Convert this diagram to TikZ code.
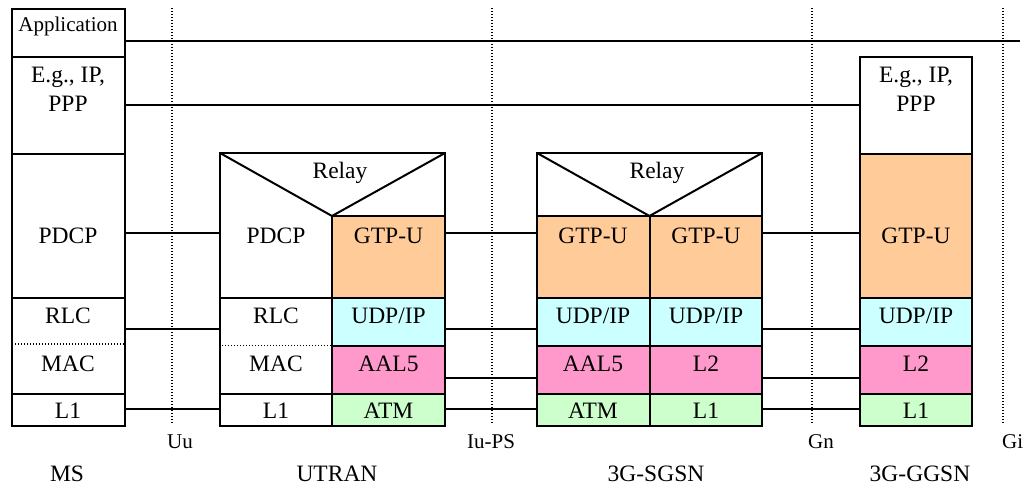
\documentclass[tikz,border=0pt]{standalone}
\usepackage{fontspec}
\setmainfont{Liberation Serif}
\definecolor{cGTP}{HTML}{FFCC99}
\definecolor{cUDP}{HTML}{CCFFFF}
\definecolor{cLtwo}{HTML}{FF99CC}
\definecolor{cLone}{HTML}{CCFFCC}
\newcommand{\bx}[6]{\node[box,fill=#6,minimum width={(#4-#2)*1pt},minimum height={(#5-#3)*1pt}] (#1) at ({(#2+#4)/2},{(#3+#5)/2}) {};}
\tikzset{
  box/.style={draw, line width=2pt, inner sep=0pt, outer sep=0pt},
  txt/.style={anchor=base, inner sep=0pt, font=\fontsize{23.5}{28}\selectfont},
  enttxt/.style={txt, text depth=0pt},
  apptxt/.style={anchor=base, inner sep=0pt, font=\fontsize{21}{25}\selectfont},
  iftxt/.style={anchor=base west, inner sep=0pt, font=\fontsize{21}{25}\selectfont},
  conn/.style={line width=1.3pt},
  sep/.style={line width=1.2pt, dash pattern=on 1.2pt off 1.8pt},
  subsep/.style={line width=1.2pt, dash pattern=on 1.2pt off 1.8pt},
  vline/.style={line width=2pt, line join=miter}
}
\begin{document}
\begin{tikzpicture}[x=1pt,y=-1pt]
\useasboundingbox (0,0) rectangle (1023,487);
% interface separators
\foreach \n/\x in {Uu/172,Iu/492,Gn/812,Gi/1003}{
  \coordinate (\n top) at (\x,8);
  \coordinate (\n bot) at (\x,423);
  \draw[sep] (\n top) -- (\n bot);
}
% ---- MS ----
\bx{msApp}{12}{9}{124.5}{57}{white}
\bx{msEG}{12}{57}{124.5}{154}{white}
\bx{msPDCP}{12}{154}{124.5}{298}{white}
\bx{msRLC}{12}{298}{124.5}{394}{white}
\bx{msL1}{12}{394}{124.5}{426}{white}
\draw[subsep] (msRLC.west |- 0,344) -- (msRLC.east |- 0,344);
% ---- UTRAN ----
\bx{uTop}{220}{153}{445}{298}{white}
\bx{uGTP}{332}{216}{445}{298}{cGTP}
\draw[vline] (uTop.north west) -- (uGTP.north west) -- (uTop.north east);
\bx{uRLC}{220}{298}{332}{394}{white}
\bx{uUDP}{332}{298}{445}{346}{cUDP}
\bx{uAAL}{332}{346}{445}{394}{cLtwo}
\bx{uL1}{220}{394}{332}{426}{white}
\bx{uATM}{332}{394}{445}{426}{cLone}
\draw[subsep] ([xshift=2pt]uRLC.west |- 0,345.5) -- ([xshift=-1pt]uRLC.east |- 0,345.5);
% ---- 3G-SGSN ----
\bx{sRelay}{537}{153}{762}{216}{white}
\draw[vline] (sRelay.north west) -- (sRelay.south) -- (sRelay.north east);
\bx{sGTPa}{537}{216}{649.5}{298}{cGTP}
\bx{sGTPb}{649.5}{216}{762}{298}{cGTP}
\bx{sUDPa}{537}{298}{649.5}{346}{cUDP}
\bx{sUDPb}{649.5}{298}{762}{346}{cUDP}
\bx{sAAL}{537}{346}{649.5}{394}{cLtwo}
\bx{sLtwo}{649.5}{346}{762}{394}{cLtwo}
\bx{sATM}{537}{394}{649.5}{426}{cLone}
\bx{sLone}{649.5}{394}{762}{426}{cLone}
% ---- 3G-GGSN ----
\bx{gEG}{860}{57}{972}{154}{white}
\bx{gGTP}{860}{154}{972}{298}{cGTP}
\bx{gUDP}{860}{298}{972}{346}{cUDP}
\bx{gLtwo}{860}{346}{972}{394}{cLtwo}
\bx{gLone}{860}{394}{972}{426}{cLone}
% ---- connectors ----
\coordinate (appEnd) at (1020,41);
\draw[conn] (msApp.east |- appEnd) -- (appEnd);
\draw[conn] (msEG.east |- 0,105) -- (gEG.west |- 0,105);
\draw[conn] (msPDCP.east |- 0,233) -- (uTop.west |- 0,233);
\draw[conn] (uGTP.east |- 0,233) -- (sGTPa.west |- 0,233);
\draw[conn] (sGTPb.east |- 0,233) -- (gGTP.west |- 0,233);
\draw[conn] (msRLC.east |- 0,329) -- (uRLC.west |- 0,329);
\draw[conn] (uUDP.east |- 0,329) -- (sUDPa.west |- 0,329);
\draw[conn] (sUDPb.east |- 0,329) -- (gUDP.west |- 0,329);
\draw[conn] (uAAL.east |- 0,378) -- (sAAL.west |- 0,378);
\draw[conn] (sLtwo.east |- 0,378) -- (gLtwo.west |- 0,378);
\draw[conn] (msL1.east |- 0,409) -- (uL1.west |- 0,409);
\draw[conn] (uATM.east |- 0,409) -- (sATM.west |- 0,409);
\draw[conn] (sLone.east |- 0,409) -- (gLone.west |- 0,409);
% ---- texts ----
\node[apptxt] (tApp) at (68,32) {Application};
\node[txt] (tEGa) at (68,83) {E.g., IP,};
\node[txt] (tEGb) at (68,111) {PPP};
\node[txt] (tPDCP) at (68,243) {PDCP};
\node[txt] (tRLC) at (68,323) {RLC};
\node[txt] (tMAC) at (68,371) {MAC};
\node[txt] (tLa) at (68,418) {L1};
\node[txt] (tRelayU) at (340,178) {Relay};
\node[txt] (tPDCPu) at (276,243) {PDCP};
\node[txt] (tGTPu) at (388.5,243) {GTP-U};
\node[txt] (tRLCu) at (276,323) {RLC};
\node[txt] (tUDPu) at (388.5,323) {UDP/IP};
\node[txt] (tMACu) at (276,371) {MAC};
\node[txt] (tAALu) at (388.5,371) {AAL5};
\node[txt] (tL1u) at (276,418) {L1};
\node[txt] (tATMu) at (388.5,418) {ATM};
\node[txt] (tRelayS) at (657,178) {Relay};
\node[txt] (tGTPs1) at (593,243) {GTP-U};
\node[txt] (tGTPs2) at (706,243) {GTP-U};
\node[txt] (tUDPs1) at (593,323) {UDP/IP};
\node[txt] (tUDPs2) at (706,323) {UDP/IP};
\node[txt] (tAALs) at (593,371) {AAL5};
\node[txt] (tL2s) at (706,371) {L2};
\node[txt] (tATMs) at (593,418) {ATM};
\node[txt] (tL1s) at (706,418) {L1};
\node[txt] (tEGg1) at (916,83) {E.g., IP,};
\node[txt] (tEGg2) at (916,111) {PPP};
\node[txt] (tGTPg) at (916,243) {GTP-U};
\node[txt] (tUDPg) at (916,323) {UDP/IP};
\node[txt] (tL2g) at (916,371) {L2};
\node[txt] (tL1g) at (916,418) {L1};
% interface labels
\node[iftxt] (lUu) at (167,448) {Uu};
\node[iftxt] (lIu) at (467,448) {Iu-PS};
\node[iftxt] (lGn) at (808,448) {Gn};
\node[iftxt] (lGi) at (1002,448) {Gi};
% entity labels
\node[enttxt] (nMS) at (67,481) {MS};
\node[enttxt] (nUTRAN) at (337,481) {UTRAN};
\node[enttxt] (nSGSN) at (656,481) {3G-SGSN};
\node[enttxt] (nGGSN) at (920,481) {3G-GGSN};
\end{tikzpicture}
\end{document}
